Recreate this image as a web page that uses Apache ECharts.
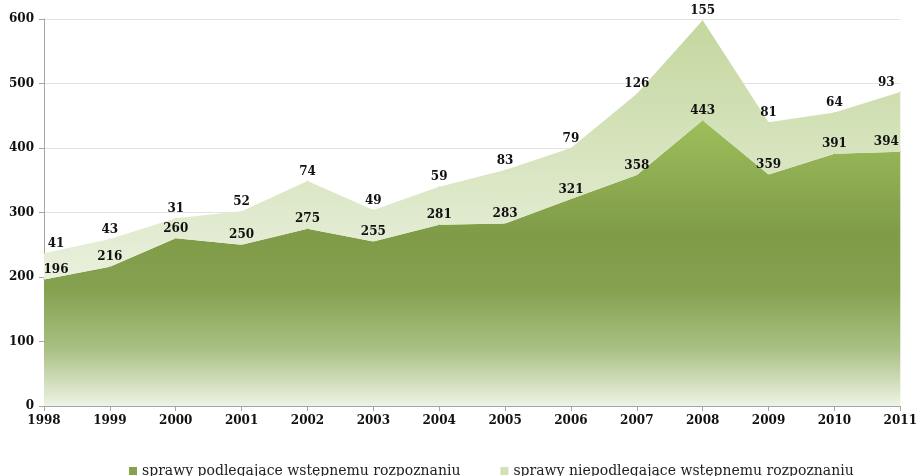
<!DOCTYPE html>
<html>
<head>
<meta charset="utf-8">
<script src="https://cdn.jsdelivr.net/npm/echarts@6/dist/echarts.min.js"></script>
<style>html,body{margin:0;padding:0;background:#fff}#c{width:920px;height:476px}</style>
</head>
<body>
<div id="c"></div>
<script>
const years = ['1998','1999','2000','2001','2002','2003','2004','2005','2006','2007','2008','2009','2010','2011'];
const podlegajace = [196,216,260,250,275,255,281,283,321,358,443,359,391,394];
const niepodlegajace = [41,43,31,52,74,49,59,83,79,126,155,81,64,93];
const seriesNames = ['sprawy podlegające wstępnemu rozpoznaniu','sprawy niepodlegające wstępnemu rozpoznaniu'];
const yTicks = {min:0, max:600, interval:100};

const font = "'DejaVu Serif', serif";
const chart = echarts.init(document.getElementById('c'), null, {renderer:'canvas'});
const g1 = new echarts.graphic.LinearGradient(0,0,0,1,[
  {offset:0,color:'#9ebe5b'},
  {offset:0.4,color:'#7f9b48'},
  {offset:0.6,color:'#86a250'},
  {offset:0.8,color:'#a9c083'},
  {offset:1,color:'#eef3e5'}
]);
const g2 = new echarts.graphic.LinearGradient(0,0,0,1,[
  {offset:0,color:'#c4d79e'},
  {offset:1,color:'#e9f0dd'}
]);
const lbl = {show:true, position:'top', distance:3, fontFamily:font, fontWeight:'bold', fontSize:12, color:'#111'};
function withEdgeOffsets(arr){
  return arr.map((v,i)=>{
    if(i===0) return {value:v, label:{offset:[12,0]}};
    if(i===arr.length-1) return {value:v, label:{offset:[-14,0]}};
    return v;
  });
}
chart.setOption({
  animation:false,
  grid:{left:44,right:17,top:19,bottom:70},
  legend:{
    bottom:-7, left:124, itemGap:40, itemWidth:8, itemHeight:8,
    icon:'rect',
    textStyle:{fontFamily:font, fontSize:14, color:'#222'},
    data:[{name:seriesNames[0], itemStyle:{color:'#86a34c', opacity:1}},{name:seriesNames[1], itemStyle:{color:'#d2e1b6', opacity:1}}]
  },
  xAxis:{
    type:'category', data:years, boundaryGap:false,
    axisLine:{lineStyle:{color:'#a6a6a6'}},
    axisTick:{show:true, length:5, lineStyle:{color:'#a6a6a6'}},
    axisLabel:{fontFamily:font, fontWeight:'bold', fontSize:12, color:'#111', margin:9}
  },
  yAxis:{
    type:'value', min:yTicks.min, max:yTicks.max, interval:yTicks.interval,
    axisLine:{show:true, lineStyle:{color:'#a6a6a6'}},
    axisTick:{show:true, length:5, lineStyle:{color:'#a6a6a6'}},
    splitLine:{lineStyle:{color:'#e3e3e3'}},
    axisLabel:{fontFamily:font, fontWeight:'bold', fontSize:12, color:'#111', margin:10}
  },
  series:[
    {name:seriesNames[0], type:'line', stack:'t', data:withEdgeOffsets(podlegajace), symbol:'circle', symbolSize:1, showSymbol:true,
     lineStyle:{width:0}, areaStyle:{color:g1, opacity:1}, label:lbl, itemStyle:{color:'#9ebe5b'}},
    {name:seriesNames[1], type:'line', stack:'t', data:withEdgeOffsets(niepodlegajace), symbol:'circle', symbolSize:1, showSymbol:true,
     lineStyle:{width:0}, areaStyle:{color:g2, opacity:1}, label:lbl, itemStyle:{color:'#c4d79e'}}
  ]
});
</script>
</body>
</html>
